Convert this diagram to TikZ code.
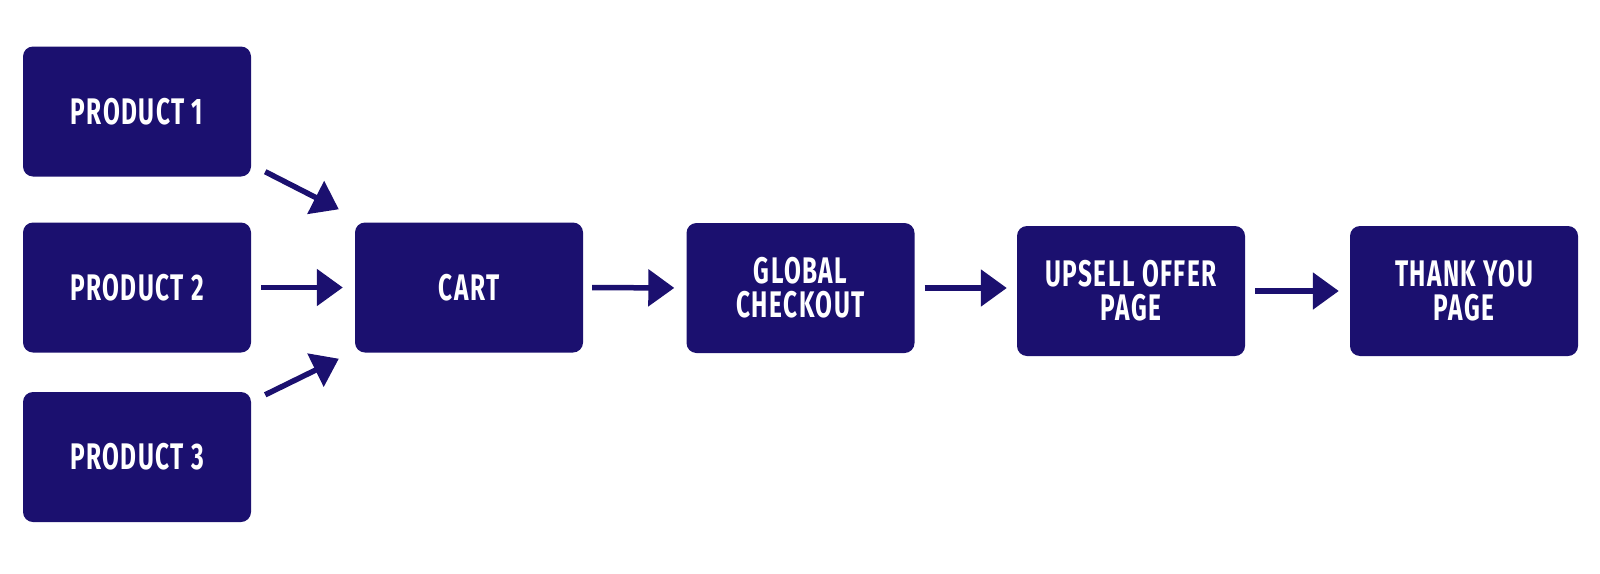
\documentclass[tikz,border=0pt]{standalone}
\usepackage{fontspec}
\newfontfamily\boxfont[FakeStretch=0.66,LetterSpace=4]{Fira Sans}
\usetikzlibrary{arrows.meta}
\definecolor{navy}{RGB}{27,16,111}
\begin{document}
\begin{tikzpicture}[x=1pt,y=-1pt,
  stepbox/.style={fill=navy, rounded corners=10pt, minimum width=228pt, minimum height=130pt,
    inner sep=0pt, text=white, align=center,
    font=\boxfont\bfseries\fontsize{37}{34}\selectfont},
  arr/.style={draw=navy, line width=5.5pt, -{Triangle[length=26pt,width=36pt]}}]
\useasboundingbox (0,0) rectangle (1600,573);
\node[stepbox] (p1) at (137,111.5) {PRODUCT 1};
\node[stepbox] (p2) at (137,287.5) {PRODUCT 2};
\node[stepbox] (p3) at (137,457) {PRODUCT 3};
\node[stepbox] (cart) at (469,287.5) {CART};
\node[stepbox] (gc) at (800.5,288) {GLOBAL\\CHECKOUT};
\node[stepbox] (up) at (1131,291) {UPSELL OFFER\\PAGE};
\node[stepbox] (ty) at (1464,291) {THANK YOU\\PAGE};
\draw[arr] ([shift={(14,-5)}]p1.south east) -- ([shift={(-16,-13)}]cart.north west);
\draw[arr] ([shift={(14,3)}]p3.north east) -- ([shift={(-16,6)}]cart.south west);
\draw[arr, shorten <=10pt, shorten >=12pt] (p2.east) -- (cart.west);
\draw[arr, shorten <=9pt, shorten >=12pt] (cart.east) -- (gc.west);
\draw[arr, shorten <=10pt, shorten >=10pt] (gc.east) -- (gc.east -| up.west);
\draw[arr, shorten <=10pt, shorten >=11pt] (up.east) -- (ty.west);
\end{tikzpicture}
\end{document}
